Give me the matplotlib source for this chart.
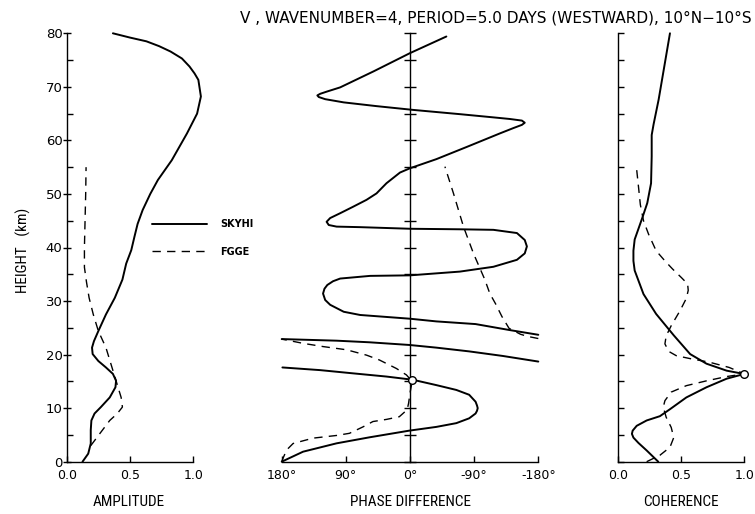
import numpy as np
import matplotlib
matplotlib.use("Agg")
import matplotlib.pyplot as plt
from matplotlib import font_manager
from matplotlib.font_manager import FontProperties
from matplotlib.ticker import MultipleLocator, FixedLocator
from matplotlib.transforms import ScaledTranslation

# ---------------- data ----------------
# normalised amplitude of v versus height (km)
amp_skyhi_h = [0, 1.5, 3.4, 5.9, 7.7, 9.0, 10.2, 12.0, 13.9, 15.1, 16.4, 17.6, 18.8, 20.1,
               21.3, 22.5, 24.4, 27.5, 30.6, 34.0, 37.0, 39.5, 42.0, 44.4, 47.0, 50.0,
               52.6, 56.3, 61.3, 65.0, 68.2, 71.3, 72.5, 73.8, 75.3, 76.6, 77.6, 78.5,
               79.2, 80.0]
amp_skyhi = [0.125, 0.17, 0.19, 0.19, 0.195, 0.22, 0.27, 0.34, 0.385, 0.39, 0.365, 0.31,
             0.25, 0.205, 0.20, 0.215, 0.25, 0.31, 0.38, 0.44, 0.47, 0.51, 0.535, 0.56,
             0.60, 0.66, 0.72, 0.83, 0.95, 1.03, 1.06, 1.04, 1.01, 0.97, 0.91, 0.82, 0.73,
             0.63, 0.50, 0.365]

amp_fgge_h = [3.0, 5.2, 7.7, 9.0, 10.2, 12.0, 15.1, 18.2, 21.3, 24.4, 27.5, 30.6, 33.6,
              36.3, 40.0, 45.0, 50.0, 55.0]
amp_fgge = [0.19, 0.26, 0.34, 0.40, 0.44, 0.43, 0.39, 0.35, 0.31, 0.25, 0.21, 0.177, 0.156,
            0.14, 0.14, 0.145, 0.15, 0.153]

# phase difference (deg, wrapped into [-180, 180]) versus height (km)
ph_skyhi_h = [0.0, 1.87, 3.43, 4.55, 5.8, 6.5, 7.2, 8.1, 9.0, 9.5, 10.0, 10.5, 11.2, 12.5,
              13.4, 14.3, 15.3, 15.9, 16.5, 17.1, 17.6,
              18.7, 19.75, 20.6, 21.3, 21.8, 22.3, 22.6, 22.9,
              23.7, 24.6, 25.7, 26.2, 26.7, 27.1, 27.4, 28.0, 29.3, 30.2, 31.4, 32.3, 33.0,
              33.7, 34.2, 34.7, 34.8, 35.5, 36.4, 37.7, 38.9, 40.2, 41.4, 42.7, 43.3, 43.4,
              43.5, 43.8, 43.9, 44.2, 44.8, 45.5, 46.4, 47.6, 48.9, 50.1, 52.0, 54.0, 54.8,
              56.5, 58.8, 61.3, 62.3, 62.9, 63.3, 63.7, 64.0, 64.3, 64.9, 65.7, 66.4, 67.1,
              67.7, 68.1, 68.4, 68.7, 69.1, 69.9, 72.9, 76.3, 79.4]
ph_skyhi = [180, 150, 103, 57, 1, -37, -65, -83, -92, -94, -95, -94, -92, -83,
            -65, -37, -4, 33, 80, 126, 179,
            -180, -130, -83, -37, 1, 57, 103, 180,
            -180, -139, -92, -37, 0, 40, 70, 93, 112, 119, 122, 120, 116,
            108, 98, 56, 0, -70, -117, -150, -161, -164, -161, -150, -117, -70,
            0, 70, 103, 114, 117, 112, 98, 80, 61, 47, 33, 14, 0,
            -37, -80, -126, -145, -157, -161, -157, -140, -117, -70, -4, 47, 93,
            119, 128, 130, 126, 117, 98, 51, 0, -51]

ph_fgge_h = [0, 1.0, 2.2, 3.4, 4.4, 4.9, 5.3, 6.5, 7.5, 7.9, 8.4, 9.7, 10.9, 12.8, 15.0,
             16.2, 17.4, 19.0, 19.9, 20.9, 21.5, 22.1, 22.9,
             23.0, 23.4, 23.8, 24.9, 27.1, 29.5, 31.4, 34.0, 38.9, 43.9, 50.1, 55.1]
ph_fgge = [180, 177, 173, 164, 136, 103, 85, 66, 52, 33, 15, 4, 2, 0, -3,
           5, 19, 43, 61, 89, 122, 150, 180,
           -180, -165, -155, -139, -129, -120, -112, -105, -89, -75, -61, -49]

# coherence versus height (km)
coh_skyhi_h = [0, 2.1, 3.5, 4.5, 5.2, 5.8, 6.7, 7.7, 8.5, 9.8, 12.0, 13.9, 15.5, 16.2,
               16.4, 16.6, 17.0, 18.3, 20.1, 23.6, 27.6, 31.3, 35.7, 37.5, 39.4, 41.5,
               43.5, 45.5, 48.3, 52.0, 57.0, 61.0, 63.0, 67.6, 73.8, 80.0]
coh_skyhi = [0.317, 0.225, 0.16, 0.12, 0.108, 0.114, 0.146, 0.225, 0.33, 0.41, 0.54, 0.70,
             0.86, 0.97, 1.0, 0.95, 0.86, 0.70, 0.57, 0.44, 0.30, 0.20, 0.13, 0.12, 0.12,
             0.13, 0.16, 0.19, 0.23, 0.26, 0.265, 0.265, 0.28, 0.32, 0.365, 0.41]

coh_fgge_h = [0, 1.2, 2.7, 4.5, 6.4, 8.3, 10.2, 11.4, 13.0, 14.2, 15.1, 15.9, 16.4, 17.6,
              18.6, 19.2, 19.8, 20.6, 22.0, 23.5, 25.4, 28.2, 30.5, 32.0, 33.2, 34.4,
              36.0, 37.5, 39.4, 42.5, 45.0, 48.0, 51.4, 54.5]
coh_fgge = [0.225, 0.33, 0.41, 0.44, 0.42, 0.38, 0.357, 0.37, 0.42, 0.54, 0.70, 0.86, 1.0,
            0.88, 0.72, 0.58, 0.46, 0.40, 0.37, 0.38, 0.42, 0.49, 0.54, 0.555, 0.55, 0.50,
            0.43, 0.37, 0.30, 0.24, 0.20, 0.175, 0.16, 0.146]

# reference level (circles)
ref_phase = [-3]
ref_phase_h = [15.3]
ref_coh = [1.0]
ref_coh_h = [16.4]

phase_ticks = [180, 90, 0, -90, -180]
phase_labels = ["180°", "90°", "0°", "-90°", "-180°"]
unit_ticks = [0.0, 0.5, 1.0]
unit_labels = ["0.0", "0.5", "1.0"]

# ---------------- styling ----------------
plt.rcParams["font.family"] = "DejaVu Sans"


def _upright(f):
    return f.style == "normal" and f.weight in (400, "normal", "regular")


def caption_font(size):
    """A narrow upright sans face for the axis captions when one is installed."""
    prefer = ["Liberation Sans Narrow", "Roboto Condensed", "Open Sans Condensed",
              "DejaVu Sans Condensed"]
    fonts = font_manager.fontManager.ttflist
    for name in prefer:
        for f in fonts:
            if f.name == name and _upright(f):
                return FontProperties(fname=f.fname, size=size)
    for f in fonts:
        if f.stretch in ("condensed", "semi-condensed") and _upright(f):
            return FontProperties(fname=f.fname, size=size)
    return FontProperties(family="DejaVu Sans", size=size * 0.9)


SOLID = dict(color="black", lw=1.4, solid_capstyle="round", solid_joinstyle="round",
             clip_on=False)
DASHED = dict(color="black", lw=1.0, dashes=(6, 4.5), clip_on=False)


def unwrap_breaks(h, p):
    """Insert NaN gaps where the wrapped phase jumps across +-180 deg."""
    h = np.asarray(h, float)
    p = np.asarray(p, float)
    hh, pp = [h[0]], [p[0]]
    for i in range(1, len(p)):
        if abs(p[i] - p[i - 1]) > 180:
            hh.append(np.nan)
            pp.append(np.nan)
        hh.append(h[i])
        pp.append(p[i])
    return np.array(hh), np.array(pp)


W, H = 755, 514
fig = plt.figure(figsize=(W / 100, H / 100), dpi=100)

bot = 1 - 461.7 / H
hgt = (461.7 - 33.3) / H
ax1 = fig.add_axes([66.7 / W, bot, 126.6 / W, hgt])
ax2 = fig.add_axes([281.7 / W, bot, 256.6 / W, hgt])
ax3 = fig.add_axes([618.3 / W, bot, 126.0 / W, hgt])

for ax in (ax1, ax2, ax3):
    ax.set_ylim(0, 80)
    ax.spines["top"].set_visible(False)
    ax.spines["right"].set_visible(False)
    for s in ax.spines.values():
        s.set_linewidth(1.0)
    ax.patch.set_visible(False)

# amplitude panel
ax1.plot(amp_skyhi, amp_skyhi_h, **SOLID, label="SKYHI")
ax1.plot(amp_fgge, amp_fgge_h, **DASHED, label="FGGE")
ax1.set_xlim(0, 1)
ax1.yaxis.set_major_locator(MultipleLocator(10))
ax1.yaxis.set_minor_locator(MultipleLocator(5))
ax1.tick_params(axis="y", which="major", direction="inout", length=6, width=1.0, pad=0,
                labelsize=9.5)
ax1.tick_params(axis="y", which="minor", direction="in", length=4, width=1.0)
ax1.xaxis.set_major_locator(FixedLocator(unit_ticks))
ax1.set_xticklabels(unit_labels)
ax1.tick_params(axis="x", direction="in", length=4, width=1.0, pad=5, labelsize=9)
# the bottom height label sits a little above its tick, clear of the "0.0" below it
lift = ScaledTranslation(0, 3 / 72, fig.dpi_scale_trans)
ylabels = ax1.get_yticklabels()
ylabels[0].set_transform(ylabels[0].get_transform() + lift)

# phase panel
h, p = unwrap_breaks(ph_skyhi_h, ph_skyhi)
ax2.plot(p, h, **SOLID)
h, p = unwrap_breaks(ph_fgge_h, ph_fgge)
ax2.plot(p, h, **DASHED)
ax2.plot(ref_phase, ref_phase_h, "o", ms=5.5, mfc="white", mec="black", mew=1.0,
         clip_on=False, zorder=5)
ax2.set_xlim(180, -180)
ax2.spines["left"].set_position(("data", 0))
ax2.yaxis.set_major_locator(MultipleLocator(5))
ax2.tick_params(axis="y", direction="inout", length=8, width=1.0, labelleft=False)
ax2.xaxis.set_major_locator(FixedLocator(phase_ticks))
ax2.set_xticklabels(phase_labels)
ax2.tick_params(axis="x", direction="in", length=4, width=1.0, pad=5, labelsize=9)

# coherence panel
ax3.plot(coh_skyhi, coh_skyhi_h, **SOLID)
ax3.plot(coh_fgge, coh_fgge_h, **DASHED)
ax3.plot(ref_coh, ref_coh_h, "o", ms=5.5, mfc="white", mec="black", mew=1.0,
         clip_on=False, zorder=5)
ax3.set_xlim(0, 1)
ax3.yaxis.set_major_locator(MultipleLocator(5))
ax3.tick_params(axis="y", direction="in", length=4, width=1.0, labelleft=False)
ax3.xaxis.set_major_locator(FixedLocator(unit_ticks))
ax3.set_xticklabels(unit_labels)
ax3.tick_params(axis="x", direction="in", length=4, width=1.0, pad=5, labelsize=9)

# axis captions
cap_font = caption_font(11)
label_kw = dict(ha="center", va="center", fontproperties=cap_font)
ax1.text(0.49, -0.094, "AMPLITUDE", transform=ax1.transAxes, **label_kw)
ax2.text(0.5, -0.094, "PHASE DIFFERENCE", transform=ax2.transAxes, **label_kw)
ax3.text(0.5, -0.094, "COHERENCE", transform=ax3.transAxes, **label_kw)
fig.text(23 / W, 1 - 250 / H, "HEIGHT   (km)", rotation=90, **label_kw)

# legend
ax1.legend(loc="center left", bbox_to_anchor=(151.7 / W, 1 - 238 / H),
           bbox_transform=fig.transFigure, frameon=False, borderpad=0,
           borderaxespad=0, handlelength=5.7, handletextpad=1.3,
           labelspacing=1.8, prop=dict(size=7, weight="bold"))

fig.text(0.996, 1 - 18 / H, "V , WAVENUMBER=4, PERIOD=5.0 DAYS (WESTWARD), 10°N\u221210°S",
         ha="right", va="center", fontsize=11)

fig.savefig("out.png", dpi=100)
